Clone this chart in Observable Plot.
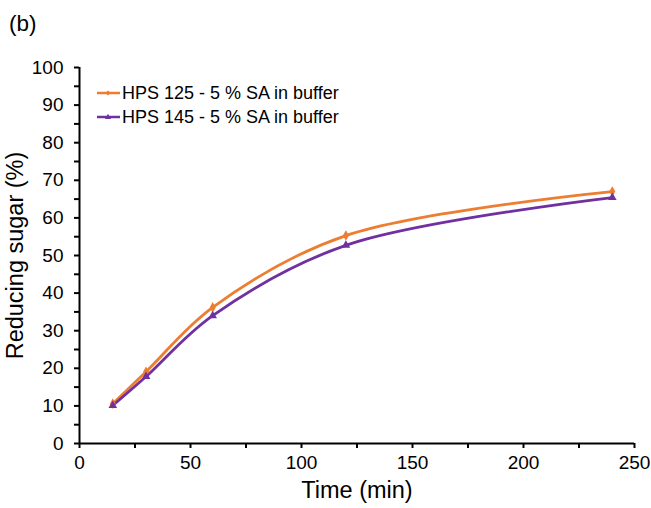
<!DOCTYPE html>
<html>
<head>
<meta charset="utf-8">
<script src="https://cdn.jsdelivr.net/npm/d3@7"></script>
<script src="https://cdn.jsdelivr.net/npm/@observablehq/plot@0.6"></script>
<style>
  html, body { margin: 0; padding: 0; background: #fff; }
  #wrap { position: relative; width: 651px; height: 508px; font-family: "Liberation Sans", Arial, sans-serif; }
  #tag { position: absolute; left: 9px; top: 11px; font-size: 22.5px; color: #000; }
  #legend { position: absolute; left: 97px; top: 81px; font-size: 18px; color: #000; line-height: 24px; }
  #legend .row { display: flex; align-items: center; white-space: nowrap; }
  #legend svg { margin-right: 1px; }
</style>
</head>
<body>
<div id="wrap">
  <div id="tag">(b)</div>
  <div id="legend"></div>
</div>
<script>
const times = [15, 30, 60, 120, 240];
const seriesNames = ["HPS 125 - 5 % SA in buffer", "HPS 145 - 5 % SA in buffer"];
const hps125 = [10.6, 19.1, 36.2, 55.3, 67.0];
const hps145 = [10.1, 17.8, 34.0, 52.7, 65.4];
const colors = ["#ED7D31", "#7030A0"];
const symbols = ["diamond", "triangle"];
const xTicks = d3.range(0, 251, 25);
const yTicks = d3.range(0, 101, 5);

const data = [];
[hps125, hps145].forEach((vals, s) => {
  times.forEach((t, i) => data.push({series: seriesNames[s], time: t, value: vals[i]}));
});

const chart = Plot.plot({
  width: 651,
  height: 508,
  marginLeft: 79,
  marginRight: 17,
  marginTop: 67,
  marginBottom: 65,
  style: {fontFamily: "Liberation Sans, Arial, sans-serif", fontSize: "18.5px", color: "#000", background: "transparent"},
  x: {domain: [0, 250]},
  y: {domain: [0, 100]},
  color: {domain: seriesNames, range: colors},
  symbol: {domain: seriesNames, range: symbols},
  marks: [
    Plot.axisX({ticks: xTicks, tickSize: 5, tickPadding: 7, strokeWidth: 2,
      tickFormat: d => d % 50 === 0 ? d : "",
      label: "Time (min)", labelAnchor: "center", labelArrow: "none", labelOffset: 54}),
    Plot.axisY({ticks: yTicks, tickSize: 5, tickPadding: 11, strokeWidth: 2,
      tickFormat: d => d % 10 === 0 ? d : "",
      label: "Reducing sugar (%)", labelAnchor: "center", labelArrow: "none", labelOffset: 73}),
    Plot.ruleY([0], {stroke: "#000", strokeWidth: 2}),
    Plot.ruleX([0], {stroke: "#000", strokeWidth: 2}),
    Plot.line(data, {x: "time", y: "value", z: "series", stroke: "series", strokeWidth: 2.8, curve: "catmull-rom"}),
    Plot.dot(data, {x: "time", y: "value", fill: "series", symbol: "series", r: 3.2, stroke: null})
  ]
});
chart.style.position = "absolute";
chart.style.left = "0";
chart.style.top = "0";
document.getElementById("wrap").prepend(chart);

chart.querySelectorAll("text").forEach(t => t.style.fontSize = "19px");
chart.querySelectorAll("g[aria-label='x-axis label'] text, g[aria-label='y-axis label'] text").forEach(t => t.style.fontSize = "23.5px");

const legend = document.getElementById("legend");
seriesNames.forEach((name, i) => {
  const row = document.createElement("div");
  row.className = "row";
  const sym = symbols[i] === "diamond"
    ? `<path d="M11,6.5 L13.5,9 L11,11.5 L8.5,9Z" fill="${colors[i]}"/>`
    : `<path d="M11,5.8 L14,11 L8,11Z" fill="${colors[i]}"/>`;
  row.innerHTML = `<svg width="24" height="18"><line x1="0" x2="23" y1="9" y2="9" stroke="${colors[i]}" stroke-width="2.5"/>${sym}</svg><span>${name}</span>`;
  legend.appendChild(row);
});
</script>
</body>
</html>
